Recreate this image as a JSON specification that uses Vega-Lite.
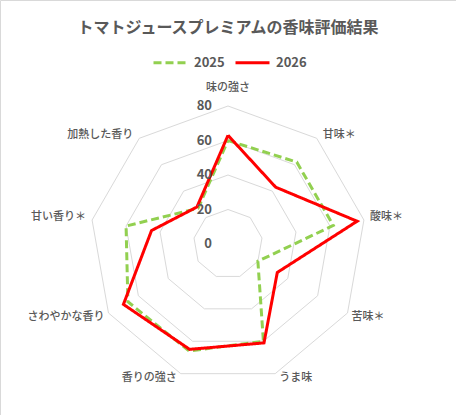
{
  "$schema": "https://vega.github.io/schema/vega-lite/v6.json",
  "width": 456,
  "height": 415,
  "autosize": {"type": "fit", "contains": "padding"},
  "padding": 0,
  "background": "white",
  "title": {
    "text": "トマトジュースプレミアムの香味評価結果",
    "font": "Noto Sans CJK JP",
    "fontSize": 16,
    "fontWeight": "bold",
    "color": "#595959",
    "anchor": "middle",
    "offset": -36
  },
  "config": {
    "view": {"stroke": "#D9D9D9", "strokeWidth": 1},
    "font": "Noto Sans CJK JP",
    "legend": {
      "padding": 0,
      "symbolType": "stroke",
      "symbolSize": 1156,
      "symbolStrokeWidth": 3,
      "labelFont": "Noto Sans CJK JP",
      "labelFontSize": 13,
      "labelFontWeight": "bold",
      "labelColor": "#595959",
      "labelOffset": 5,
      "columnPadding": 4
    }
  },
  "datasets": {
    "series": [
      {"series": "2025", "i": 0, "label": "味の強さ", "v": 60},
      {"series": "2025", "i": 1, "label": "甘味＊", "v": 62},
      {"series": "2025", "i": 2, "label": "酸味＊", "v": 62},
      {"series": "2025", "i": 3, "label": "苦味＊", "v": 20},
      {"series": "2025", "i": 4, "label": "うま味", "v": 60},
      {"series": "2025", "i": 5, "label": "香りの強さ", "v": 66},
      {"series": "2025", "i": 6, "label": "さわやかな香り", "v": 67},
      {"series": "2025", "i": 7, "label": "甘い香り＊", "v": 60},
      {"series": "2025", "i": 8, "label": "加熱した香り", "v": 27},
      {"series": "2025", "i": 9, "label": "味の強さ", "v": 60},
      {"series": "2026", "i": 0, "label": "味の強さ", "v": 63},
      {"series": "2026", "i": 1, "label": "甘味＊", "v": 43},
      {"series": "2026", "i": 2, "label": "酸味＊", "v": 76},
      {"series": "2026", "i": 3, "label": "苦味＊", "v": 33},
      {"series": "2026", "i": 4, "label": "うま味", "v": 61},
      {"series": "2026", "i": 5, "label": "香りの強さ", "v": 65},
      {"series": "2026", "i": 6, "label": "さわやかな香り", "v": 70},
      {"series": "2026", "i": 7, "label": "甘い香り＊", "v": 45},
      {"series": "2026", "i": 8, "label": "加熱した香り", "v": 28},
      {"series": "2026", "i": 9, "label": "味の強さ", "v": 63}
    ],
    "grid": [
      {"ring": 20, "i": 0}, {"ring": 20, "i": 1}, {"ring": 20, "i": 2}, {"ring": 20, "i": 3}, {"ring": 20, "i": 4},
      {"ring": 20, "i": 5}, {"ring": 20, "i": 6}, {"ring": 20, "i": 7}, {"ring": 20, "i": 8}, {"ring": 20, "i": 9},
      {"ring": 40, "i": 0}, {"ring": 40, "i": 1}, {"ring": 40, "i": 2}, {"ring": 40, "i": 3}, {"ring": 40, "i": 4},
      {"ring": 40, "i": 5}, {"ring": 40, "i": 6}, {"ring": 40, "i": 7}, {"ring": 40, "i": 8}, {"ring": 40, "i": 9},
      {"ring": 60, "i": 0}, {"ring": 60, "i": 1}, {"ring": 60, "i": 2}, {"ring": 60, "i": 3}, {"ring": 60, "i": 4},
      {"ring": 60, "i": 5}, {"ring": 60, "i": 6}, {"ring": 60, "i": 7}, {"ring": 60, "i": 8}, {"ring": 60, "i": 9},
      {"ring": 80, "i": 0}, {"ring": 80, "i": 1}, {"ring": 80, "i": 2}, {"ring": 80, "i": 3}, {"ring": 80, "i": 4},
      {"ring": 80, "i": 5}, {"ring": 80, "i": 6}, {"ring": 80, "i": 7}, {"ring": 80, "i": 8}, {"ring": 80, "i": 9}
    ],
    "ticks": [
      {"t": 0}, {"t": 20}, {"t": 40}, {"t": 60}, {"t": 80}
    ],
    "axes": [
      {"i": 0, "label": "味の強さ"},
      {"i": 1, "label": "甘味＊"},
      {"i": 2, "label": "酸味＊"},
      {"i": 3, "label": "苦味＊"},
      {"i": 4, "label": "うま味"},
      {"i": 5, "label": "香りの強さ"},
      {"i": 6, "label": "さわやかな香り"},
      {"i": 7, "label": "甘い香り＊"},
      {"i": 8, "label": "加熱した香り"}
    ]
  },
  "encoding": {
    "x": {"field": "x", "type": "quantitative", "scale": {"domain": [-132.17, 132.17], "nice": false, "zero": false}, "axis": null},
    "y": {"field": "y", "type": "quantitative", "scale": {"domain": [-99.13, 141.45], "nice": false, "zero": false}, "axis": null}
  },
  "layer": [
    {
      "data": {"name": "grid"},
      "transform": [
        {"calculate": "datum.ring * sin(datum.i * 2 * PI / 9)", "as": "x"},
        {"calculate": "datum.ring * cos(datum.i * 2 * PI / 9)", "as": "y"}
      ],
      "mark": {"type": "line", "color": "#D9D9D9", "strokeWidth": 1},
      "encoding": {
        "detail": {"field": "ring", "type": "nominal"},
        "order": {"field": "i", "type": "quantitative"}
      }
    },
    {
      "data": {"name": "series"},
      "transform": [
        {"calculate": "datum.v * sin(datum.i * 2 * PI / 9)", "as": "x"},
        {"calculate": "datum.v * cos(datum.i * 2 * PI / 9)", "as": "y"}
      ],
      "mark": {"type": "line", "strokeWidth": 3, "strokeJoin": "miter", "strokeCap": "butt"},
      "encoding": {
        "order": {"field": "i", "type": "quantitative"},
        "color": {
          "field": "series", "type": "nominal",
          "scale": {"domain": ["2025", "2026"], "range": ["#92D050", "#FF0000"]},
          "legend": {"title": null, "orient": "none", "direction": "horizontal", "legendX": 152, "legendY": 44}
        },
        "strokeDash": {
          "field": "series", "type": "nominal",
          "scale": {"domain": ["2025", "2026"], "range": [[8, 4], [1, 0]]},
          "legend": {"title": null, "orient": "none", "direction": "horizontal", "legendX": 152, "legendY": 44}
        }
      }
    },
    {
      "data": {"name": "ticks"},
      "transform": [
        {"calculate": "0", "as": "x"},
        {"calculate": "datum.t", "as": "y"}
      ],
      "mark": {"type": "text", "align": "right", "baseline": "middle", "dx": -16, "fontSize": 13, "fontWeight": "bold", "color": "#595959"},
      "encoding": {"text": {"field": "t", "type": "quantitative"}}
    },
    {
      "data": {"name": "axes"},
      "transform": [
        {"filter": "datum.i == 0"},
        {"calculate": "80 * sin(datum.i * 2 * PI / 9)", "as": "x"},
        {"calculate": "80 * cos(datum.i * 2 * PI / 9)", "as": "y"}
      ],
      "mark": {"type": "text", "align": "center", "baseline": "middle", "dy": -18, "fontSize": 11, "fontWeight": 500, "color": "#595959"},
      "encoding": {"text": {"field": "label", "type": "nominal"}}
    },
    {
      "data": {"name": "axes"},
      "transform": [
        {"filter": "datum.i == 1 || datum.i == 2"},
        {"calculate": "80 * sin(datum.i * 2 * PI / 9)", "as": "x"},
        {"calculate": "80 * cos(datum.i * 2 * PI / 9)", "as": "y"}
      ],
      "mark": {"type": "text", "align": "left", "baseline": "middle", "dx": 6, "dy": -3, "fontSize": 11, "fontWeight": 500, "color": "#595959"},
      "encoding": {"text": {"field": "label", "type": "nominal"}}
    },
    {
      "data": {"name": "axes"},
      "transform": [
        {"filter": "datum.i == 3 || datum.i == 4"},
        {"calculate": "80 * sin(datum.i * 2 * PI / 9)", "as": "x"},
        {"calculate": "80 * cos(datum.i * 2 * PI / 9)", "as": "y"}
      ],
      "mark": {"type": "text", "align": "left", "baseline": "middle", "dx": 4, "dy": 4, "fontSize": 11, "fontWeight": 500, "color": "#595959"},
      "encoding": {"text": {"field": "label", "type": "nominal"}}
    },
    {
      "data": {"name": "axes"},
      "transform": [
        {"filter": "datum.i == 5 || datum.i == 6"},
        {"calculate": "80 * sin(datum.i * 2 * PI / 9)", "as": "x"},
        {"calculate": "80 * cos(datum.i * 2 * PI / 9)", "as": "y"}
      ],
      "mark": {"type": "text", "align": "right", "baseline": "middle", "dx": -4, "dy": 4, "fontSize": 11, "fontWeight": 500, "color": "#595959"},
      "encoding": {"text": {"field": "label", "type": "nominal"}}
    },
    {
      "data": {"name": "axes"},
      "transform": [
        {"filter": "datum.i == 7 || datum.i == 8"},
        {"calculate": "80 * sin(datum.i * 2 * PI / 9)", "as": "x"},
        {"calculate": "80 * cos(datum.i * 2 * PI / 9)", "as": "y"}
      ],
      "mark": {"type": "text", "align": "right", "baseline": "middle", "dx": -6, "dy": -3, "fontSize": 11, "fontWeight": 500, "color": "#595959"},
      "encoding": {"text": {"field": "label", "type": "nominal"}}
    }
  ]
}
